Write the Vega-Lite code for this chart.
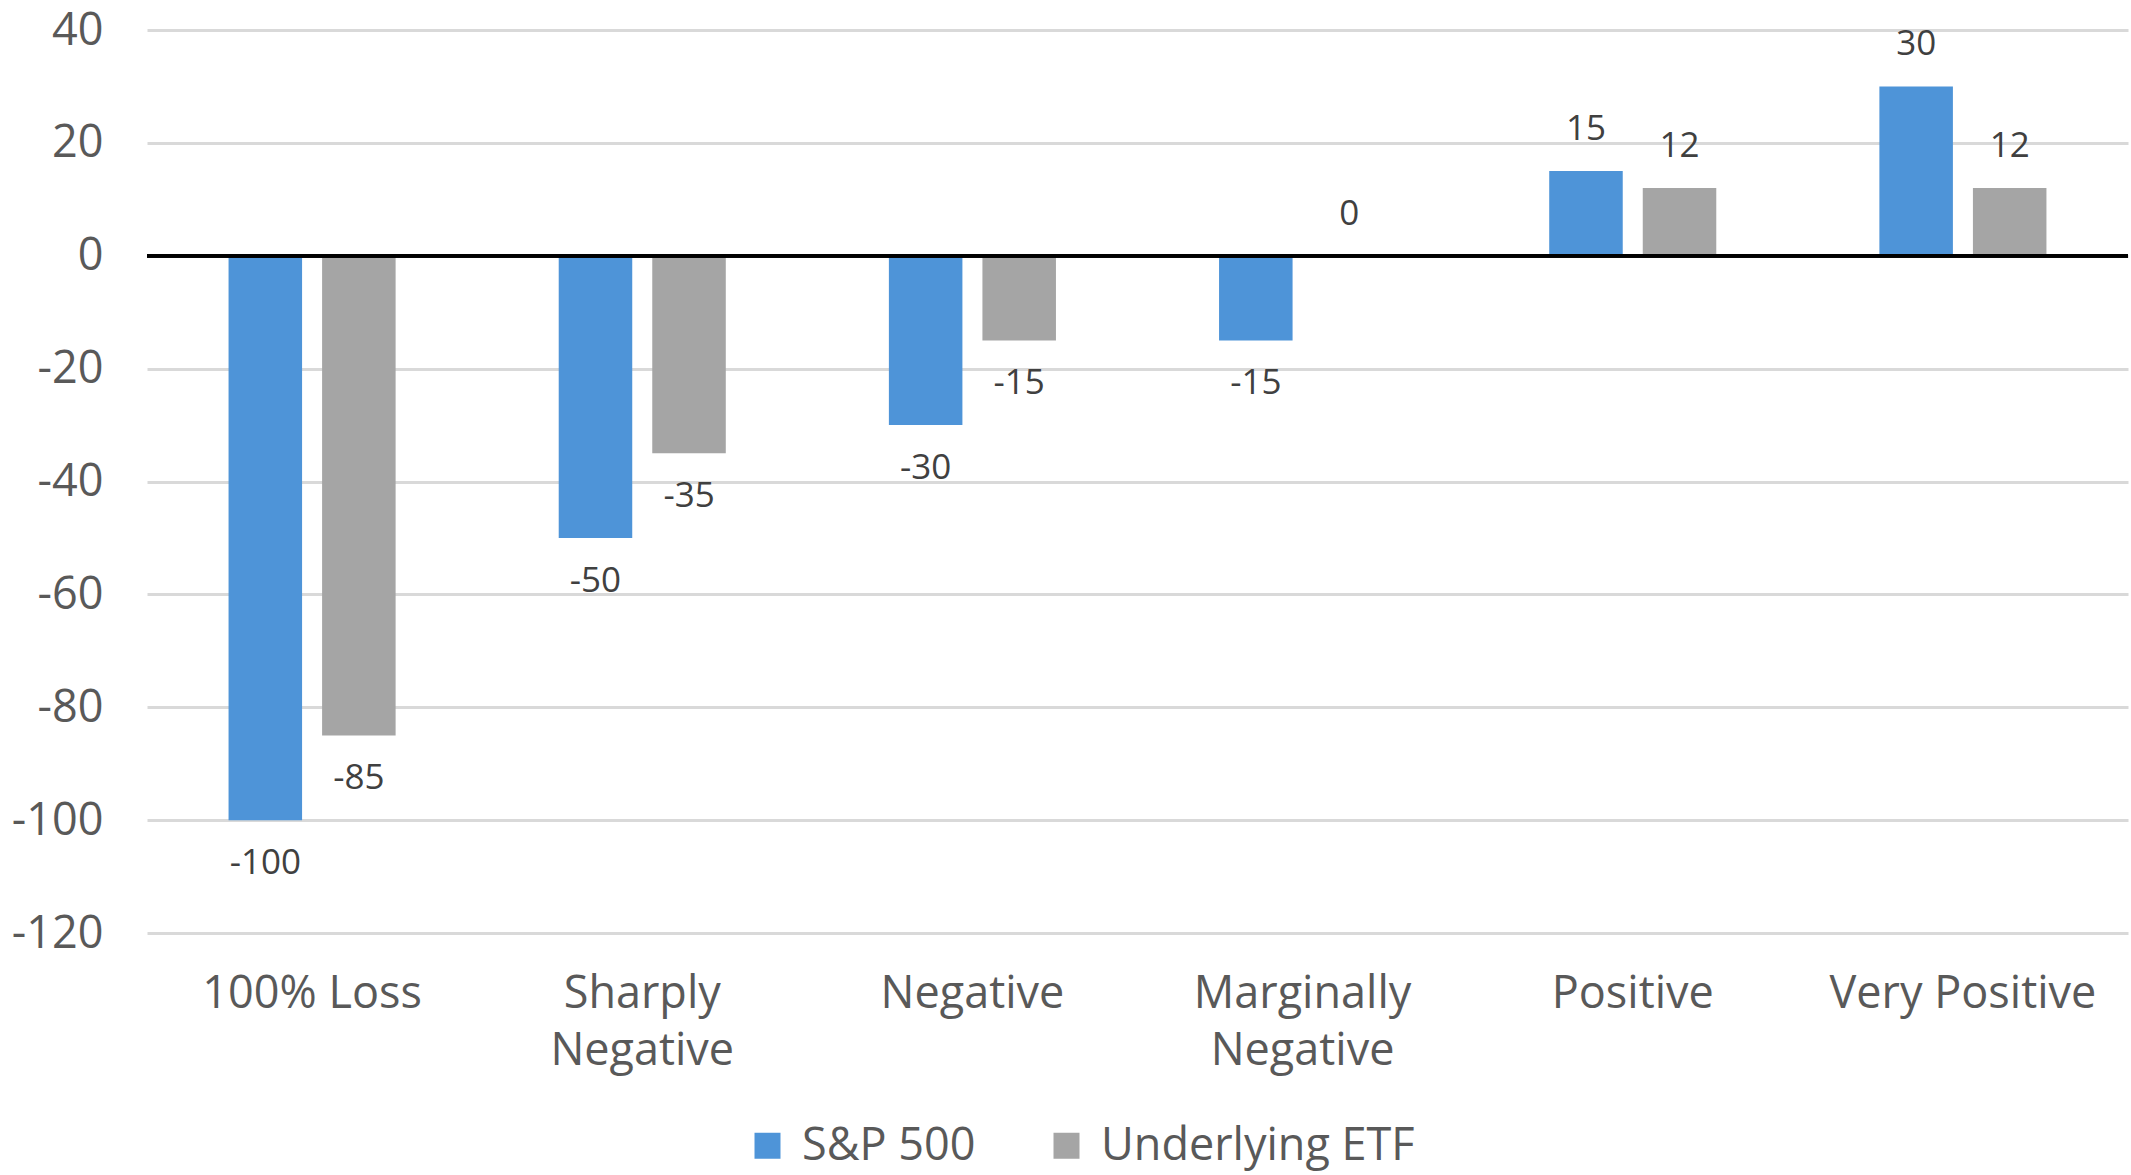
{
  "$schema": "https://vega.github.io/schema/vega-lite/v6.json",
  "autosize": "none",
  "width": 1981,
  "height": 903,
  "padding": {"left": 147, "top": 30, "right": 3, "bottom": 242},
  "background": "white",
  "config": {
    "view": {"stroke": null},
    "font": "Open Sans",
    "axis": {"domain": false, "ticks": false, "labelFont": "Open Sans", "labelColor": "#595959", "labelLimit": 0},
    "legend": {"padding": 0, "labelLimit": 0}
  },
  "data": {
    "values": [
      {"category": "100% Loss", "series": "S&P 500", "value": -100},
      {"category": "100% Loss", "series": "Underlying ETF", "value": -85},
      {"category": "Sharply Negative", "series": "S&P 500", "value": -50},
      {"category": "Sharply Negative", "series": "Underlying ETF", "value": -35},
      {"category": "Negative", "series": "S&P 500", "value": -30},
      {"category": "Negative", "series": "Underlying ETF", "value": -15},
      {"category": "Marginally Negative", "series": "S&P 500", "value": -15},
      {"category": "Marginally Negative", "series": "Underlying ETF", "value": 0},
      {"category": "Positive", "series": "S&P 500", "value": 15},
      {"category": "Positive", "series": "Underlying ETF", "value": 12},
      {"category": "Very Positive", "series": "S&P 500", "value": 30},
      {"category": "Very Positive", "series": "Underlying ETF", "value": 12}
    ]
  },
  "encoding": {
    "x": {
      "field": "category",
      "type": "nominal",
      "sort": null,
      "scale": {"paddingInner": 0.494, "paddingOuter": 0.247},
      "axis": {
        "title": null,
        "labelAngle": 0,
        "labelFontSize": 45,
        "labelPadding": 38,
        "labelLineHeight": 57,
        "labelBaseline": "top",
        "labelExpr": "datum.value == 'Sharply Negative' ? ['Sharply', 'Negative'] : datum.value == 'Marginally Negative' ? ['Marginally', 'Negative'] : datum.value"
      }
    },
    "xOffset": {
      "field": "series",
      "type": "nominal",
      "sort": ["S&P 500", "Underlying ETF"],
      "scale": {"paddingInner": 0.214, "paddingOuter": 0}
    },
    "y": {
      "field": "value",
      "type": "quantitative",
      "scale": {"domain": [-120, 40], "nice": false},
      "axis": {
        "title": null,
        "values": [-120, -100, -80, -60, -40, -20, 0, 20, 40],
        "labelExpr": "'' + datum.value",
        "labelFontSize": 45,
        "labelPadding": 44,
        "grid": true,
        "gridColor": "#D9D9D9",
        "gridWidth": 3
      }
    }
  },
  "layer": [
    {
      "mark": {"type": "bar"},
      "encoding": {
        "color": {
          "field": "series",
          "type": "nominal",
          "sort": ["S&P 500", "Underlying ETF"],
          "scale": {"domain": ["S&P 500", "Underlying ETF"], "range": ["#4E94D8", "#A5A5A5"]},
          "legend": {
            "title": null,
            "orient": "none",
            "direction": "horizontal",
            "legendX": 598,
            "legendY": 1093,
            "symbolType": "square",
            "symbolSize": 676,
            "symbolStrokeWidth": 0,
            "labelFontSize": 45,
            "labelFont": "Open Sans",
            "labelColor": "#595959",
            "labelOffset": 12,
            "columnPadding": 68
          }
        }
      }
    },
    {
      "mark": {"type": "rule", "color": "#000000", "strokeWidth": 3},
      "encoding": {"y": {"datum": 0}, "x": null, "xOffset": null}
    },
    {
      "transform": [{"filter": "datum.value >= 0"}],
      "mark": {"type": "text", "fontSize": 35, "color": "#404040", "baseline": "middle", "dy": -42},
      "encoding": {"text": {"field": "value", "type": "nominal"}}
    },
    {
      "transform": [{"filter": "datum.value < 0"}],
      "mark": {"type": "text", "fontSize": 35, "color": "#404040", "baseline": "middle", "dy": 43},
      "encoding": {"text": {"field": "value", "type": "nominal"}}
    }
  ]
}
